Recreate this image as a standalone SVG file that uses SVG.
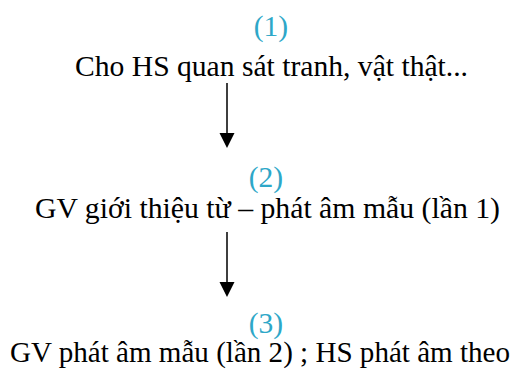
<svg xmlns="http://www.w3.org/2000/svg" width="531" height="372" viewBox="0 0 531 372">
  <style>
    text { font-family: 'Liberation Serif', 'Times New Roman', Tinos, serif; font-size: 29.5px; text-anchor: middle; }
    .num { fill: #2ea7c8; }
    .lbl { fill: #000; }
    .arrow { fill: #000; }
  </style>
  <rect width="531" height="372" fill="#fff"/>
  <!-- step 1 -->
  <g id="step1">
    <text class="num" x="271" y="36">(1)</text>
    <text class="lbl" x="271.5" y="76" textLength="393" lengthAdjust="spacingAndGlyphs">Cho HS quan sát tranh, vật thật...</text>
  </g>
  <!-- step 2 -->
  <g id="step2">
    <text class="num" x="266" y="187">(2)</text>
    <text class="lbl" x="267.5" y="218" textLength="465" lengthAdjust="spacingAndGlyphs">GV giới thiệu từ – phát âm mẫu (lần 1)</text>
  </g>
  <!-- step 3 -->
  <g id="step3">
    <text class="num" x="266" y="333">(3)</text>
    <text class="lbl" x="260" y="362" textLength="500" lengthAdjust="spacingAndGlyphs">GV phát âm mẫu (lần 2) ; HS phát âm theo</text>
  </g>
  <!-- downward arrows between steps: shaft plus filled head -->
  <g id="connectors">
    <path class="arrow" d="M226.25,83 H227.75 V133 H234.5 L227,148 L219.5,133 H226.25 Z"/>
    <path class="arrow" d="M226.25,232 H227.75 V282 H234.5 L227,297 L219.5,282 H226.25 Z"/>
  </g>
</svg>
